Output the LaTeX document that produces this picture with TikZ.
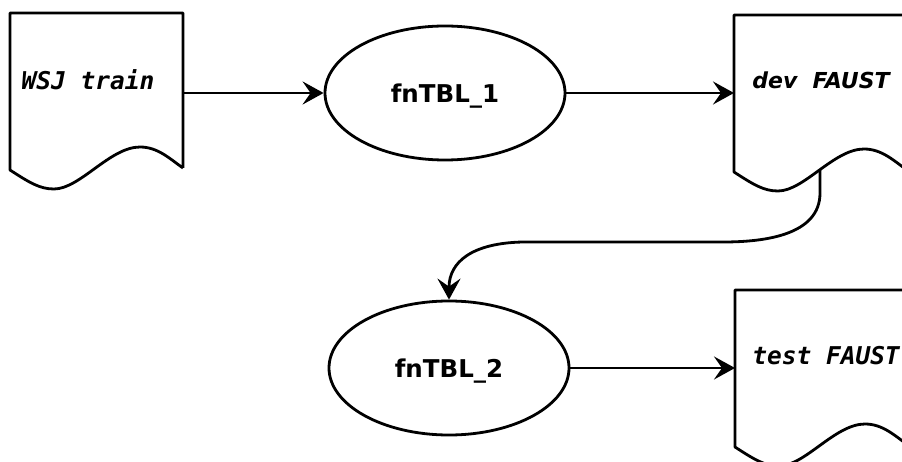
\documentclass[tikz,border=0pt]{standalone}
\usepackage{fontspec}
\setmainfont{DejaVu Sans}
\newfontfamily\docmono{DejaVu Sans Mono}
\usetikzlibrary{shapes.geometric,arrows.meta}

\tikzset{
  flow/.style={line width=2.8pt, -{Stealth[length=21pt,width=23pt,inset=8pt]}},
  process/.style={ellipse, draw, line width=2.8pt, minimum width=240pt,
    minimum height=134pt, inner sep=0pt, text depth=0pt,
    font=\fontsize{24.5}{28}\selectfont\bfseries},
  docline/.style={line width=2.8pt, line join=round},
  doclabel/.style={inner sep=0pt, font=\fontsize{24.5}{28}\selectfont\docmono\bfseries\itshape},
  devlabel/.style={inner sep=0pt, font=\fontsize{22}{28}\selectfont\bfseries\itshape},
}

% document outline with a wavy lower edge; origin = top-left corner
\newcommand\docoutline{%
  \draw[docline] (173,155) -- (173,0) -- (0,0) -- (0,157)
    .. controls (20,170) and (30,176) .. (44,176)
    .. controls (70,176) and (100,134) .. (130,134)
    .. controls (148,134) and (160,146) .. (173,155);}

\begin{document}
\begin{tikzpicture}[x=1pt, y=-1pt]
  \useasboundingbox (0,0) rectangle (902,462);
  \clip (0,0) rectangle (902,462);

  % documents
  \begin{scope}[shift={(10,13)}]
    \docoutline
    \coordinate (wsj-out) at (172,80);
  \end{scope}
  \begin{scope}[shift={(734,15)}]
    \docoutline
    \coordinate (dev-in) at (0,78);
    \coordinate (dev-out) at (86,155);
  \end{scope}
  \begin{scope}[shift={(735,290)}]
    \docoutline
    \coordinate (test-in) at (0,78);
  \end{scope}

  \node[doclabel] (wsj) at (88,80) {WSJ train};
  \node[devlabel] (dev) at (821,80) {dev\ \ FAUST};
  \node[doclabel] (test) at (826,356) {test FAUST};

  % processes
  \node[process] (fn1) at (445,93) {fnTBL\_1};
  \node[process] (fn2) at (449,368) {fnTBL\_2};

  % connectors
  \draw[flow] (wsj-out) -- (fn1.west);
  \draw[flow] (fn1.east) -- (dev-in);
  \draw[flow] (fn2.east) -- (test-in);
  \draw[flow] (dev-out) -- (820,193)
    .. controls (820,235) and (765,242) .. (723,242) -- (523,242)
    .. controls (472,243) and (449,262) .. (fn2.north);
\end{tikzpicture}
\end{document}
